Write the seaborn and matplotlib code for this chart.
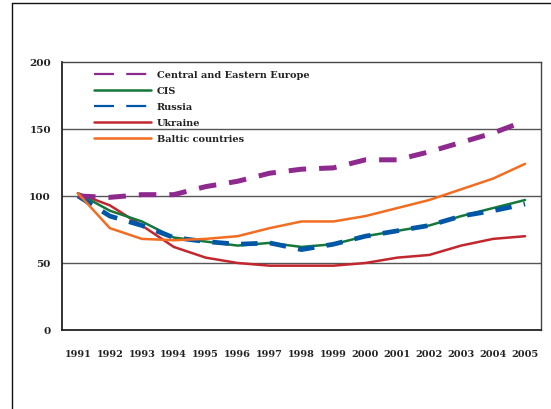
import numpy as np
import pandas as pd
import matplotlib
matplotlib.use("Agg")
import matplotlib.pyplot as plt
from matplotlib.lines import Line2D
import seaborn as sns

# data (index, 1991 = 100)
years = [str(y) for y in range(1991, 2006)]
cee = [100, 99, 101, 101, 107, 111, 117, 120, 121, 127, 127, 133, 140, 147, 156]
cis = [102, 89, 81, 69, 66, 63, 65, 62, 64, 70, 74, 78, 85, 91, 97]
russia = [100, 85, 78, 69, 66, 64, 65, 60, 64, 70, 74, 78, 85, 89, 94]
ukraine = [102, 93, 78, 62, 54, 50, 48, 48, 48, 50, 54, 56, 63, 68, 70]
baltic = [102, 76, 68, 67, 68, 70, 76, 81, 81, 85, 91, 97, 105, 113, 124]

series = ["Central and Eastern Europe", "CIS", "Russia", "Ukraine", "Baltic countries"]
values = [cee, cis, russia, ukraine, baltic]
colors = ["#8E2A8E", "#16773A", "#0057A8", "#C1272D", "#F26D21"]

sns.set_style("white")
plt.rcParams["font.family"] = ["DejaVu Serif"]
plt.rcParams["font.weight"] = "bold"

fig = plt.figure(figsize=(5.51, 4.10), dpi=100)
ax = fig.add_axes([62 / 551, 79 / 410, 479 / 551, 268 / 410])

pos = np.arange(len(years))
styles = {
    "Central and Eastern Europe": dict(lw=3.6, dashes=(3.5, 2.6), z=6),
    "CIS": dict(lw=1.8, dashes=None, z=4),
    "Russia": dict(lw=3.4, dashes=(3.5, 2.6), z=5),
    "Ukraine": dict(lw=1.8, dashes=None, z=3),
    "Baltic countries": dict(lw=1.8, dashes=None, z=7),
}
for name, vals, col in zip(series, values, colors):
    st = styles[name]
    df = pd.DataFrame({"x": pos, "y": vals})
    sns.lineplot(data=df, x="x", y="y", ax=ax, legend=False,
                 color=col, lw=st["lw"], zorder=st["z"])
    if st["dashes"] is not None:
        ax.lines[-1].set_dashes(st["dashes"])

ax.set_xlim(-0.5, len(years) - 0.5)
ax.set_ylim(0, 200)
ax.set_yticks([0, 50, 100, 150, 200])
ax.set_xticks(np.arange(-0.5, len(years)), labels=[""] * (len(years) + 1))
ax.set_xticks(pos, labels=years, minor=True)
ax.tick_params(axis="x", which="major", direction="out", length=8, width=1.2, color="#222222")
ax.tick_params(axis="x", which="minor", length=0, pad=13.5, labelsize=7)
ax.tick_params(axis="y", length=0, pad=8, labelsize=7.5)
for lab in ax.get_xticklabels(minor=True) + ax.get_yticklabels():
    lab.set_fontweight("bold")
    lab.set_color("#222222")
ax.set_xlabel("")
ax.set_ylabel("")

for y in [50, 100, 150]:
    ax.axhline(y, color="#555555", lw=1.0, zorder=1)
for side in ["left", "bottom"]:
    ax.spines[side].set_color("#222222")
    ax.spines[side].set_linewidth(1.3)
for side in ["top", "right"]:
    ax.spines[side].set_color("#444444")
    ax.spines[side].set_linewidth(1.0)

handles = []
for name, col in zip(series, colors):
    if styles[name]["dashes"] is not None:
        h = Line2D([], [], color=col, lw=1.6, dashes=(9.0, 5.5))
    else:
        h = Line2D([], [], color=col, lw=1.8)
    handles.append(h)
leg = ax.legend(handles, series, loc="upper left", bbox_to_anchor=(0.058, 0.985),
                borderaxespad=0, frameon=False, handlelength=5.9, handletextpad=0.6,
                labelspacing=0.73, prop={"weight": "bold", "size": 7})
for t in leg.get_texts():
    t.set_color("#222222")

# outer border of the original graphic, clipped at right and bottom
fig.add_artist(Line2D([12 / 551, 12 / 551], [0, 1 - 4.3 / 410], color="#111111", lw=1.0,
                      transform=fig.transFigure))
fig.add_artist(Line2D([12 / 551, 1], [1 - 4.3 / 410, 1 - 4.3 / 410], color="#111111", lw=1.0,
                      transform=fig.transFigure))

fig.savefig("out.png", dpi=100)
